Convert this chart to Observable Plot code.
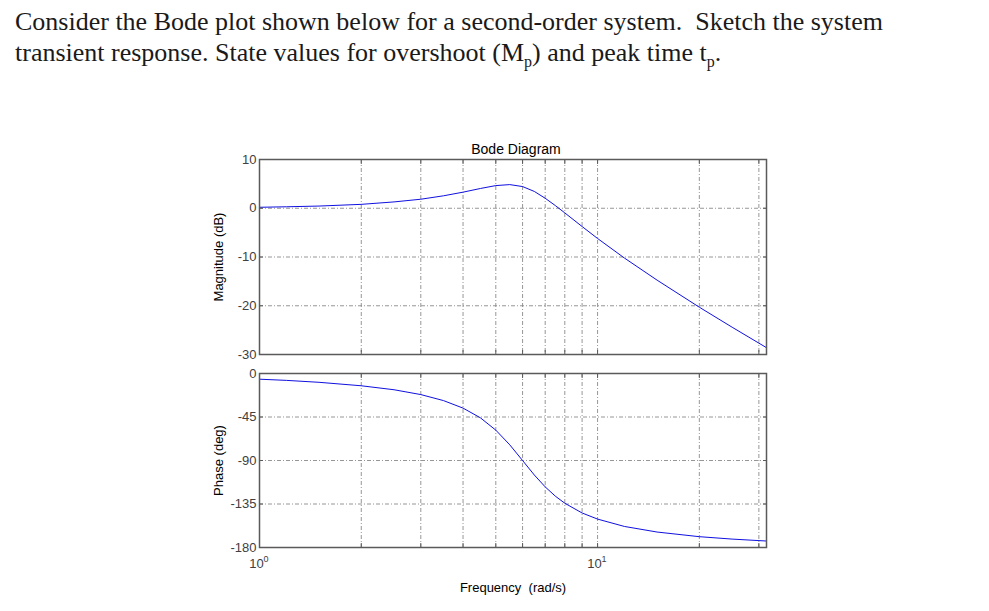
<!DOCTYPE html>
<html>
<head>
<meta charset="utf-8">
<script src="https://cdn.jsdelivr.net/npm/d3@7"></script>
<script src="https://cdn.jsdelivr.net/npm/@observablehq/plot@0.6"></script>
<style>
  html, body { margin: 0; padding: 0; background: #fff; }
  #page { position: relative; width: 989px; height: 611px; overflow: hidden; background: #fff; }
  #question { position: absolute; left: 15px; top: 6px; font-family: "Liberation Serif", "DejaVu Serif", serif; font-size: 26px; line-height: 31px; color: #1a1a1a; white-space: nowrap; }
  #question sub { font-size: 16px; vertical-align: -6px; line-height: 0; }
  #mag, #phase { position: absolute; left: 0; }
  #mag { top: 130px; }
  #phase { top: 360px; }
</style>
</head>
<body>
<div id="page">
  <div id="question">Consider the Bode plot shown below for a second-order system.&nbsp; Sketch the system<br>transient response. State values for overshoot (M<sub>p</sub>) and peak time t<sub>p</sub>.</div>
  <div id="mag"></div>
  <div id="phase"></div>
</div>
<script>
// Frequencies (rad/s)
const freq  = [1, 1.2, 1.5, 2, 2.5, 3, 3.5, 4, 4.5, 5, 5.5, 6, 6.5, 7, 7.5, 8, 9, 10, 12, 15, 20, 25, 31.6];
// Magnitude (dB)
const magnitude = [0.2, 0.3, 0.45, 0.8, 1.3, 1.85, 2.55, 3.3, 4.05, 4.65, 4.85, 4.45, 3.45, 2.05, 0.55, -0.95, -3.75, -6.2, -10.2, -14.75, -20.3, -24.4, -28.6];
// Phase (deg)
const phase = [-5.9, -7.1, -9.1, -12.7, -16.8, -21.8, -28, -35.8, -45.8, -58.6, -73.8, -90, -105, -117.3, -126.9, -134.2, -144.3, -150.6, -158.2, -164, -168.8, -171.3, -173.3];

// Axis / grid definitions
const xDomain = [1, 31.6];
const xGrid = [2, 3, 4, 5, 6, 7, 8, 9, 10, 20, 30];
const xTickLabels = [1, 10];
const xTickBase = ["10", "10"];
const xTickExp = ["0", "1"];
const magTicks = [10, 0, -10, -20, -30];
const phaseTicks = [0, -45, -90, -135, -180];

const magData = freq.map((f, i) => ({f, v: magnitude[i]}));
const phaseData = freq.map((f, i) => ({f, v: phase[i]}));
const xTickData = xTickLabels.map((f, i) => ({f, base: xTickBase[i], exp: xTickExp[i]}));

const gridStyle = {stroke: "#8a8a8a", strokeOpacity: 1, strokeWidth: 0.9, strokeDasharray: "4,2,1,2"};
const baseStyle = {fontFamily: "'Liberation Sans', Arial, sans-serif", fontSize: "13px", color: "#404040", background: "transparent", overflow: "visible"};

function panel({data, yDomain, yTicks, height, marginTop, marginBottom, title, ylabel, bottomAxis}) {
  const marks = [
    Plot.gridX(xGrid, gridStyle),
    Plot.gridY(yTicks, gridStyle),
    Plot.line(data, {x: "f", y: "v", stroke: "#1010e0", strokeWidth: 1}),
    Plot.frame({stroke: "#5a5a5a", strokeWidth: 1.5}),
    Plot.axisY(yTicks, {anchor: "left", tickSize: 0, tickPadding: 3, tickFormat: d => String(d), label: null, fill: "#404040", fontSize: 13}),
    Plot.axisY(yTicks, {anchor: "left", tickSize: -4, tickFormat: () => "", label: null, stroke: "#5a5a5a"}),
    Plot.axisY(yTicks, {anchor: "right", tickSize: -4, tickFormat: () => "", label: null, stroke: "#5a5a5a"}),
    Plot.axisX(xGrid, {anchor: "bottom", tickSize: -4, tickFormat: () => "", label: null, stroke: "#5a5a5a"}),
    Plot.axisX(xGrid, {anchor: "top", tickSize: -4, tickFormat: () => "", label: null, stroke: "#5a5a5a"}),
    Plot.text([ylabel], {frameAnchor: "left", textAnchor: "middle", lineAnchor: "middle", rotate: -90, dx: -41, fill: "#000", fontSize: 13})
  ];
  if (title) marks.push(Plot.text([title], {frameAnchor: "top", lineAnchor: "top", dx: 3, dy: -15, fill: "#000", fontSize: 14}));
  if (bottomAxis) {
    marks.push(Plot.text(xTickData, {x: "f", text: "base", frameAnchor: "bottom", lineAnchor: "top", textAnchor: "middle", dx: -3, dy: 11, fill: "#404040", fontSize: 13}));
    marks.push(Plot.text(xTickData, {x: "f", text: "exp", frameAnchor: "bottom", lineAnchor: "top", textAnchor: "start", dx: 4, dy: 8, fill: "#404040", fontSize: 9}));
    marks.push(Plot.text(["Frequency  (rad/s)"], {frameAnchor: "bottom", lineAnchor: "middle", dy: 40, fill: "#000", fontSize: 13}));
  }
  return Plot.plot({
    width: 989, height, marginLeft: 259, marginRight: 223, marginTop, marginBottom,
    x: {type: "log", domain: xDomain, axis: null},
    y: {domain: [yDomain[1], yDomain[0]].sort((a, b) => a - b), axis: null},
    style: baseStyle,
    marks
  });
}

document.getElementById("mag").appendChild(panel({
  data: magData, yDomain: [-30, 10], yTicks: magTicks, height: 240, marginTop: 29, marginBottom: 16,
  title: "Bode Diagram", ylabel: "Magnitude (dB)", bottomAxis: false
}));
document.getElementById("phase").appendChild(panel({
  data: phaseData, yDomain: [-180, 0], yTicks: phaseTicks, height: 251, marginTop: 13, marginBottom: 64,
  title: null, ylabel: "Phase (deg)", bottomAxis: true
}));
</script>
</body>
</html>
